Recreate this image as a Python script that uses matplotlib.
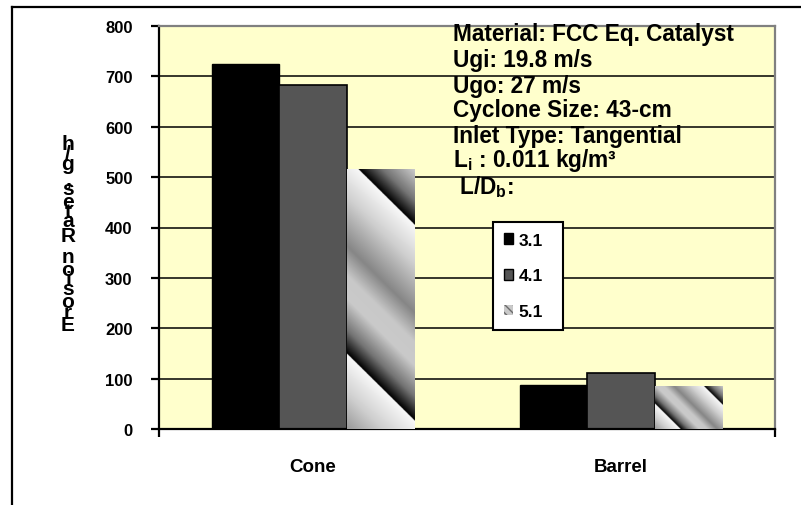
import matplotlib
matplotlib.use("Agg")
import matplotlib.pyplot as plt
import numpy as np
from matplotlib.colors import LinearSegmentedColormap
from matplotlib.patches import Rectangle
from matplotlib.lines import Line2D

plt.rcParams['font.family'] = ['Liberation Sans', 'DejaVu Sans']
plt.rcParams['font.weight'] = 'bold'
plt.rcParams['mathtext.fontset'] = 'custom'
plt.rcParams['mathtext.rm'] = 'Liberation Sans:bold'
plt.rcParams['mathtext.bf'] = 'Liberation Sans:bold'
plt.rcParams['mathtext.it'] = 'Liberation Sans:bold'

# data
categories = ['Cone', 'Barrel']
series = ['3.1', '4.1', '5.1']
erosion = {
    '3.1': [725, 87],
    '4.1': [683, 111],
    '5.1': [516, 85],
}
yticks = [0, 100, 200, 300, 400, 500, 600, 700, 800]
ylabel = 'Erosion Rates, g/h'
info_lines = [
    'Material: FCC Eq. Catalyst',
    'Ugi: 19.8 m/s',
    'Ugo: 27 m/s',
    'Cyclone Size: 43-cm',
    'Inlet Type: Tangential',
    r'L$_\mathbf{i}$ : 0.011 kg/m³',
    r' L/D$_\mathbf{b}$:',
]

W, H = 801, 506
fig = plt.figure(figsize=(W / 100, H / 100), dpi=100)
ax = fig.add_axes([159 / W, (H - 430) / H, 616 / W, 403 / H])
ax.set_facecolor('#FFFFCC')
ax.set_xlim(-0.5, 1.5)
ax.set_ylim(0, 800)

for side in ['left', 'bottom']:
    ax.spines[side].set_color('black')
    ax.spines[side].set_linewidth(1.6)
for side in ['top', 'right']:
    ax.spines[side].set_color('#808080')
    ax.spines[side].set_linewidth(1.6)

ax.set_yticks(yticks)
ax.set_yticklabels([str(t) for t in yticks], fontsize=12, fontweight='bold')
ax.tick_params(axis='y', direction='out', length=6, width=1.6, pad=13)
ax.yaxis.grid(True, color='black', linewidth=1.1, zorder=0)
ax.set_axisbelow(True)

x = np.arange(len(categories))
ax.set_xticks(x)
ax.set_xticklabels(categories, fontsize=13.5, fontweight='bold')
ax.tick_params(axis='x', length=0, pad=21)
ax.set_xticks([-0.5, 1.5], minor=True)
ax.tick_params(axis='x', which='minor', direction='out', length=6, width=1.6)

w = 0.218
ax.bar(x - w, erosion['3.1'], w, color='black', edgecolor='black', linewidth=1, zorder=2)
ax.bar(x, erosion['4.1'], w, color='#555555', edgecolor='black', linewidth=1.2, zorder=2)
holders = ax.bar(x + w, erosion['5.1'], w, facecolor='none', edgecolor='none', zorder=3)

# diagonal metallic gradient for the last series
grad = LinearSegmentedColormap.from_list('diag', [
    (0.0, '#f8f8f8'), (0.2, '#cfcfcf'), (0.45, '#868686'), (0.6, '#c8c8c8'),
    (0.72, '#cacaca'), (0.88, '#747474'), (1.0, '#000000')])
n = 400
uu, vv = np.meshgrid(np.linspace(0, 1, n), np.linspace(0, 1, n))
for rect in holders:
    x0, y0 = rect.get_x(), rect.get_y()
    x1, y1 = x0 + rect.get_width(), y0 + rect.get_height()
    (px0, py0), (px1, py1) = ax.transData.transform([(x0, y0), (x1, y1)])
    wp, hp = px1 - px0, py1 - py0
    s = 1 - (uu * wp + vv * hp) / (wp + hp)
    phase = ((s - 0.17) / 0.6) % 1.0
    im = ax.imshow(grad(phase), extent=(x0, x1, y0, y1), origin='lower',
                   aspect='auto', interpolation='bilinear', zorder=3)
    im.set_clip_path(rect)

# legend
handles = [
    Rectangle((0, 0), 1, 1, facecolor='black', edgecolor='black', linewidth=1),
    Rectangle((0, 0), 1, 1, facecolor='#555555', edgecolor='black', linewidth=1),
    Rectangle((0, 0), 1, 1, facecolor='#c8c8c8', edgecolor='#6a6a6a', hatch='\\\\\\\\', linewidth=0),
]
leg = ax.legend(handles, series, loc='upper left', bbox_to_anchor=(0.542, 0.246, 0.114, 0.268),
                mode='expand', borderaxespad=0, fancybox=False, framealpha=1,
                edgecolor='black', prop={'size': 12.5, 'weight': 'bold'},
                handlelength=0.55, handleheight=0.55, handletextpad=0.3,
                labelspacing=1.2, borderpad=0.62)
leg.get_frame().set_linewidth(1.5)
leg.set_zorder(5)

# annotation block
line_y = [35, 61, 86, 111, 136, 161, 187]
for txt, yy in zip(info_lines, line_y):
    fig.text(453 / W, 1 - yy / H, txt, fontsize=16.3, fontweight='bold',
             ha='left', va='center', zorder=6)

# stacked y-axis label, drawn bottom to top
adv = {'E': 667, 'r': 389, 'o': 611, 's': 556, 'i': 278, 'n': 611, ' ': 278,
       'R': 722, 'a': 556, 't': 333, 'e': 556, ',': 278, 'g': 611, '/': 278, 'h': 611}
total = sum(adv[c] for c in ylabel)
scale = (333 - 138) / total
pos = 333
for c in ylabel:
    a = adv[c] * scale
    fig.text(68 / W, 1 - (pos - a / 2) / H, c, fontsize=15, fontweight='bold',
             ha='center', va='center')
    pos -= a

# chart border
fig.add_artist(Line2D([12 / W, 12 / W], [0, 1 - 8 / H], color='black', linewidth=1.6))
fig.add_artist(Line2D([12 / W, 1], [1 - 8 / H, 1 - 8 / H], color='black', linewidth=1.6))

fig.savefig('out.png', dpi=100)
